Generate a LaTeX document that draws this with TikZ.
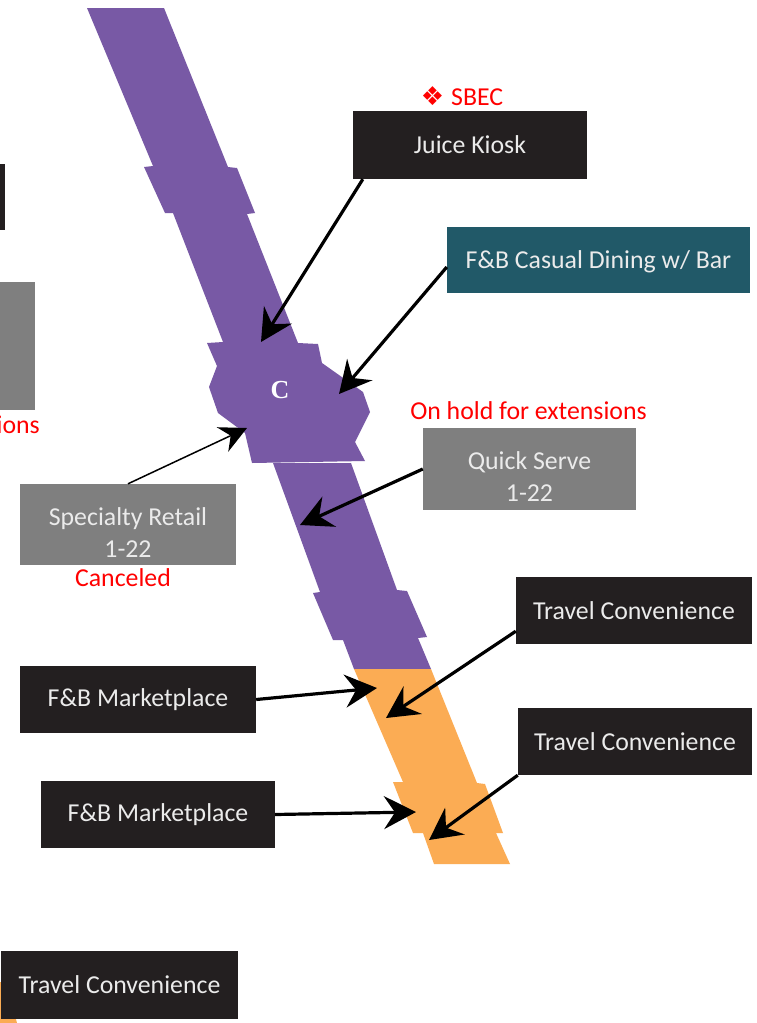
\documentclass[tikz,border=0pt]{standalone}
\usepackage{fontspec}
\setmainfont{Carlito}
\newfontfamily\symfont{DejaVu Sans}
\newfontfamily\gatefont{Liberation Serif}
\usetikzlibrary{arrows.meta,positioning}
\definecolor{purplepier}{HTML}{7859A5}
\definecolor{orangepier}{HTML}{FBAC54}
\definecolor{darkbox}{HTML}{231F20}
\definecolor{tealbox}{HTML}{215968}
\definecolor{greybox}{HTML}{7F7F7F}
\begin{document}
\begin{tikzpicture}[x=1pt,y=-1pt]
\tikzstyle{box}=[rectangle, inner sep=0pt, text=white!92!black, align=center, font=\fontsize{25.8}{32}\selectfont]
\tikzstyle{dark}=[box, fill=darkbox]
\tikzstyle{teal}=[box, fill=tealbox]
\tikzstyle{grey}=[box, fill=greybox]
\tikzstyle{note}=[text=red, inner sep=0pt, font=\fontsize{25.8}{30}\selectfont, node distance=5pt]
\tikzstyle{connect}=[-{Stealth[length=32pt,width=33pt,inset=11pt]}, line width=3.2pt, black]
\tikzstyle{thinconnect}=[-{Stealth[length=27pt,width=27pt,inset=9pt]}, line width=1.5pt, black]
  \clip (0,0) rectangle (757,1023);
  \fill[white] (0,0) rectangle (757,1023);
  % concourse
  \fill[purplepier] (87,8) -- (164,8) -- (228,167) -- (237,168) -- (255,213) -- (247,214) -- (298,343)
    -- (318,344) -- (322,363) -- (363,392) -- (370,412) -- (355,442) -- (365,461) -- (252,463)
    -- (245,433) -- (218,413) -- (209,387) -- (217,366) -- (207,343) -- (223,342) -- (173,213)
    -- (165,213) -- (144,167) -- (153,166) -- cycle;
  \fill[purplepier] (273,463) -- (351,463) -- (397,590) -- (407,591) -- (427,637) -- (418,638) -- (431,669)
    -- (354,669) -- (343,640) -- (333,640) -- (313,593) -- (320,592) -- cycle;
  \fill[orangepier] (354,669) -- (431,669) -- (477,783) -- (485,784) -- (503,833) -- (496,833) -- (510,864)
    -- (434,864) -- (423,833) -- (413,833) -- (393,782) -- (403,782) -- cycle;
  \fill[orangepier] (0,982) -- (2,982) -- (2,1019) -- (16,1019) -- (17,1023) -- (0,1023) -- cycle;

  \node[text=white, font=\gatefont\bfseries\fontsize{26}{26}\selectfont, inner sep=0pt] (gate) at (280,390) {C};

  \node[dark, minimum width=234pt, minimum height=68pt] (juice) at (470,145) {Juice Kiosk};
  \node[teal, minimum width=303pt, minimum height=66pt, text depth=0pt] (casual) at (598.5,260) {F\&B Casual Dining w/ Bar};
  \node[grey, minimum width=213pt, minimum height=82pt] (quick) at (529.5,469) {\rule{0pt}{33pt}Quick Serve\\1-22};
  \node[grey, minimum width=216pt, minimum height=81pt] (retail) at (128,524.5) {\rule{0pt}{33pt}Specialty Retail\\1-22};
  \node[dark, minimum width=236pt, minimum height=67pt] (travela) at (634,610.5) {Travel Convenience};
  \node[dark, minimum width=234pt, minimum height=67pt] (travelb) at (635,741.5) {Travel Convenience};
  \node[dark, minimum width=236pt, minimum height=67pt] (market) at (138,699.5) {F\&B Marketplace};
  \node[dark, minimum width=234pt, minimum height=67pt] (marketb) at (158,814.5) {F\&B Marketplace};
  \node[dark, minimum width=237pt, minimum height=68pt] (travelc) at (119.5,985) {Travel Convenience};
  \node[dark, minimum width=65pt, minimum height=66pt] (cutdark) at (-27.5,197) {};
  \node[grey, minimum width=75pt, minimum height=128pt] (cutgrey) at (-2.5,346) {};

  \node[note] (sbec) [above=5pt of juice, xshift=-8pt] {{\symfont\fontsize{26}{26}\selectfont ❖}\hspace{7pt}SBEC};
  \node[note] (hold) at (528.5,411) {On hold for extensions};
  \node[note] (cancel) [below=3pt of retail, xshift=-5pt] {Canceled};
  \node[note, anchor=east] (holdcut) at (40,425) {On hold for extensions};

  \coordinate (juicetip) at (261,342);
  \coordinate (casualtip) at (339,394);
  \coordinate (retailtip) at (247,428);
  \coordinate (quicktip) at (300,525);
  \coordinate (travelatip) at (386,718);
  \coordinate (markettip) at (377,688);
  \coordinate (marketbtip) at (416,812);
  \coordinate (travelbtip) at (429,840);

  \path
    ([xshift=10pt]juice.south west) edge [connect] (juicetip)
    ([yshift=-7pt]casual.west) edge [connect] (casualtip)
    (retail.north) edge [thinconnect] (retailtip)
    (quick.west) edge [connect] (quicktip)
    ([yshift=13pt]travela.south west) edge [connect] (travelatip)
    (market.east) edge [connect] (markettip)
    (marketb.east) edge [connect] (marketbtip)
    (travelb.south west) edge [connect] (travelbtip);
\end{tikzpicture}
\end{document}
